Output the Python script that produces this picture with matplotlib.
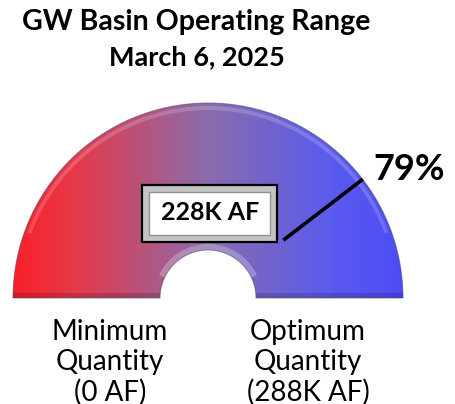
import numpy as np
import matplotlib.pyplot as plt
from matplotlib.patches import Wedge, Rectangle
from matplotlib.colors import LinearSegmentedColormap

# gauge data
title = "GW Basin Operating Range"
date_label = "March 6, 2025"
current_kaf = 228
optimum_kaf = 288
min_label = ["Minimum", "Quantity", "(0 AF)"]
max_label = ["Optimum", "Quantity", "(288K AF)"]

pct = current_kaf / optimum_kaf
font = "Lato"

fig = plt.figure(figsize=(4.55, 4.04), dpi=100)
ax = fig.add_axes([0, 0, 1, 1])
ax.set_xlim(0, 455)
ax.set_ylim(0, 404)
ax.axis("off")

cx, cy = 208, 404 - 298
r_out, r_in = 195, 48

# gradient half ring, red -> purple-grey -> blue
cmap = LinearSegmentedColormap.from_list(
    "gauge", [(0.0, "#f82028"), (0.15, "#e83848"), (0.5, "#8a6cac"),
              (0.8, "#5c5cec"), (1.0, "#4c4cf8")])
grad = np.linspace(0, 1, 256).reshape(1, -1)
img = ax.imshow(grad, cmap=cmap, extent=(cx - r_out, cx + r_out, cy, cy + r_out),
                aspect="auto", zorder=1)
ring = Wedge((cx, cy), r_out, 0, 180, width=r_out - r_in, facecolor="none",
             edgecolor="none")
ax.add_patch(ring)
img.set_clip_path(ring)

# bevel look: soft highlight and shaded rims
ax.add_patch(Wedge((cx, cy), r_out - 3, 20, 160, width=4, facecolor="white",
                   alpha=0.18, edgecolor="none", zorder=2))
ax.add_patch(Wedge((cx, cy), r_in + 6, 25, 155, width=6, facecolor="white",
                   alpha=0.25, edgecolor="none", zorder=2))
ax.add_patch(Wedge((cx, cy), r_out, 0, 180, width=r_out - r_in, facecolor="none",
                   edgecolor="#444466", lw=0.8, alpha=0.5, zorder=3))
ax.add_patch(Rectangle((cx - r_out, cy), r_out - r_in, 5, facecolor="black",
                       alpha=0.15, edgecolor="none", zorder=2))
ax.add_patch(Rectangle((cx + r_in, cy), r_out - r_in, 5, facecolor="black",
                       alpha=0.15, edgecolor="none", zorder=2))

# needle
ang = np.pi * (1 - pct)
ax.plot([cx + 95 * np.cos(ang), cx + r_out * np.cos(ang)],
        [cy + 95 * np.sin(ang), cy + r_out * np.sin(ang)],
        color="black", lw=2.6, solid_capstyle="butt", zorder=4)
ax.text(409, 404 - 169, f"{round(pct * 100)}%", fontsize=26, fontweight="bold",
        family=font, ha="center", va="center")

# value box
ax.add_patch(Rectangle((142, 404 - 242), 135, 57, facecolor="#c4c4c4",
                       edgecolor="black", lw=1.6, zorder=5))
ax.add_patch(Rectangle((149, 404 - 235), 121, 43, facecolor="white",
                       edgecolor="#909090", lw=1.0, zorder=6))
ax.text(210, 404 - 213, f"{current_kaf}K AF", fontsize=18, fontweight="bold",
        family=font, ha="center", va="center", zorder=7)

# titles
ax.text(196, 404 - 22, title, fontsize=20.5, fontweight="bold", family=font,
        ha="center", va="center")
ax.text(197, 404 - 57, date_label, fontsize=19.5, fontweight="bold", family=font,
        ha="center", va="center")

# end labels
for i, (lo, hi) in enumerate(zip(min_label, max_label)):
    y = 404 - (332 + 30 * i)
    ax.text(110, y, lo, fontsize=20, family=font, ha="center", va="center")
    ax.text(308, y, hi, fontsize=20, family=font, ha="center", va="center")

fig.savefig("out.png", dpi=100)
